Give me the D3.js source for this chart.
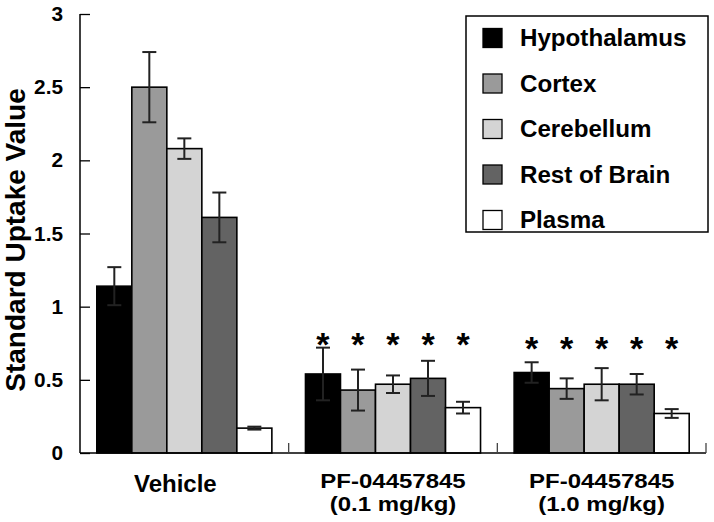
<!DOCTYPE html>
<html><head><meta charset="utf-8">
<script src="https://cdn.jsdelivr.net/npm/d3@7"></script>
<style>
body{margin:0;background:#fff;}
svg text{font-family:"Liberation Sans",Arial,Helvetica,sans-serif;font-weight:bold;fill:#000;}
</style></head>
<body>
<svg id="chart" width="714" height="522"></svg>
<script>
const groups = ["Vehicle", "PF-04457845\n(0.1 mg/kg)", "PF-04457845\n(1.0 mg/kg)"];
const series = ["Hypothalamus", "Cortex", "Cerebellum", "Rest of Brain", "Plasma"];
const colors = ["#000000", "#9a9a9a", "#d4d4d4", "#636363", "#ffffff"];
const values = [
  [1.14, 2.50, 2.08, 1.61, 0.17],
  [0.54, 0.43, 0.47, 0.51, 0.31],
  [0.55, 0.44, 0.47, 0.47, 0.27]
];
const errors = [
  [0.13, 0.24, 0.07, 0.17, 0.01],
  [0.18, 0.14, 0.06, 0.12, 0.04],
  [0.07, 0.07, 0.11, 0.07, 0.03]
];
const significant = [false, true, true];
const sigLevel = [null, 0.76, 0.73];
const yTicks = [0, 0.5, 1, 1.5, 2, 2.5, 3];
const yTickLabels = ["0", "0.5", "1", "1.5", "2", "2.5", "3"];
const yTitle = "Standard Uptake Value";

const svg = d3.select("#chart");
const mLeft = 80, mRight = 706, mTop = 14, mBottom = 453;

const y = d3.scaleLinear().domain([0, 3]).range([mBottom, mTop]);
const x0 = d3.scaleBand().domain(d3.range(groups.length)).range([mLeft, mRight]).padding(0);
const x1 = d3.scaleBand().domain(series).range([0, x0.bandwidth()]).paddingInner(0).paddingOuter(0.48);

// helper: text stretched horizontally a little (the source glyphs are wide)
function wideText(parent, x, yy, str, size, anchor, k) {
  return parent.append("text")
    .attr("transform", `translate(${x},${yy}) scale(${k},1)`)
    .attr("text-anchor", anchor).attr("font-size", size).text(str);
}

// bars
const g = svg.append("g");
groups.forEach((grp, gi) => {
  const gg = g.append("g").attr("transform", `translate(${x0(gi)},0)`);
  series.forEach((s, si) => {
    const v = values[gi][si], e = errors[gi][si];
    const bx = x1(s), bw = x1.bandwidth(), cx = bx + bw / 2;
    gg.append("rect")
      .attr("x", bx).attr("y", y(v))
      .attr("width", bw).attr("height", y(0) - y(v))
      .attr("fill", colors[si]).attr("stroke", "#000").attr("stroke-width", 1.6);
    const eg = gg.append("g").attr("stroke", "#222").attr("stroke-width", 2);
    eg.append("line").attr("x1", cx).attr("x2", cx).attr("y1", y(v + e)).attr("y2", y(v - e));
    eg.append("line").attr("x1", cx - 7).attr("x2", cx + 7).attr("y1", y(v + e)).attr("y2", y(v + e));
    eg.append("line").attr("x1", cx - 7).attr("x2", cx + 7).attr("y1", y(v - e)).attr("y2", y(v - e));
    if (significant[gi]) {
      gg.append("text").attr("x", cx).attr("y", y(sigLevel[gi]) + 14)
        .attr("text-anchor", "middle").attr("font-size", 34).text("*");
    }
  });
});

// y axis
const yAxis = d3.axisRight(y).tickValues(yTicks).tickSize(10).tickFormat("");
const ya = svg.append("g").attr("transform", `translate(${mLeft},0)`).call(yAxis);
ya.select(".domain").attr("stroke", "#000").attr("stroke-width", 1.5).attr("d", `M0,${mTop}V${mBottom}`);
ya.selectAll(".tick line").attr("stroke", "#000").attr("stroke-width", 1.3);
const yl = svg.append("g");
yTicks.forEach((d, i) => wideText(yl, 63, y(d) + 7, yTickLabels[i], 20, "end", 1.04));

// x axis
const xa = svg.append("g");
xa.append("line").attr("x1", mLeft).attr("x2", mRight).attr("y1", mBottom).attr("y2", mBottom)
  .attr("stroke", "#000").attr("stroke-width", 1.5);
xa.selectAll("line.sep").data(d3.range(1, groups.length + 1)).join("line").attr("class", "sep")
  .attr("x1", d => x0(d - 1) + x0.bandwidth()).attr("x2", d => x0(d - 1) + x0.bandwidth())
  .attr("y1", mBottom).attr("y2", mBottom - 10)
  .attr("stroke", "#444").attr("stroke-width", 1.3);

groups.forEach((grp, gi) => {
  const lines = grp.split("\n");
  const cx = x0(gi) + x0.bandwidth() / 2 + (gi === 0 ? -9 : 0);
  if (lines.length === 1) {
    wideText(svg, cx, 492, lines[0], 24, "middle", 1.0);
  } else {
    lines.forEach((l, li) => wideText(svg, cx, 488 + li * 22.5, l, 20, "middle", 1.2));
  }
});

// y title
svg.append("text").attr("transform", "translate(25,240) rotate(-90)")
  .attr("text-anchor", "middle").attr("font-size", 28).text(yTitle);

// legend
const lg = svg.append("g");
lg.append("rect").attr("x", 466).attr("y", 16).attr("width", 242).attr("height", 216)
  .attr("fill", "#fff").attr("stroke", "#000").attr("stroke-width", 1.5);
series.forEach((s, si) => {
  const cy = 38 + si * 45.5;
  lg.append("rect").attr("x", 483).attr("y", cy - 9.5).attr("width", 19).attr("height", 19)
    .attr("fill", colors[si]).attr("stroke", "#000").attr("stroke-width", 1.3);
  wideText(lg, 520, cy + 8, s, 23, "start", 1.05);
});
</script>
</body></html>
